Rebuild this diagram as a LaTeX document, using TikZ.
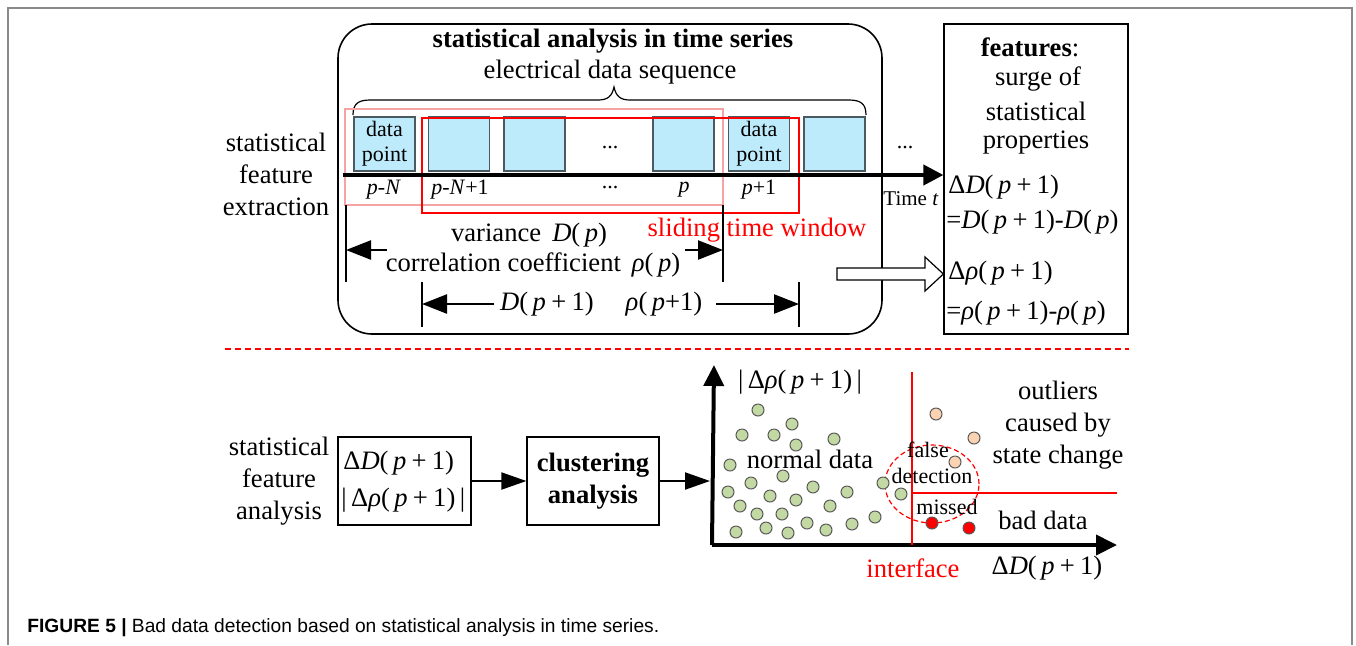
\documentclass[tikz,border=0pt]{standalone}
\usepackage{fontspec}
\setmainfont{Liberation Serif}
\newfontfamily\capfont{Liberation Sans}
\usetikzlibrary{arrows.meta,shapes.geometric}
\definecolor{boxblue}{HTML}{BDEBFB}
\definecolor{boxedge}{HTML}{4A5A60}
\definecolor{dotgreen}{HTML}{C3D9A3}
\definecolor{dotpeach}{HTML}{FBD3B3}
\definecolor{framegray}{HTML}{8A8A8A}
\definecolor{winpink}{HTML}{F5A3A3}
\newcommand\itp{\textit{p}}
\newcommand\itD{\textit{D}}
\newcommand\itN{\textit{N}}
\newcommand\itrho{\textit{ρ}}
\newcommand\msp{\hspace{0.2em}}
\newcommand\plusone{\msp+\msp1}
\begin{document}
\begin{tikzpicture}[x=0.5pt,y=-0.5pt,
  txt/.style={inner sep=0pt, align=center, font=\fontsize{13.3}{16}\selectfont},
  sm/.style={inner sep=0pt, align=center, font=\fontsize{11}{12.5}\selectfont},
  dbox/.style={draw=boxedge, fill=boxblue, line width=0.6pt, minimum width=30.5pt, minimum height=27pt, inner sep=0pt},
  plainbox/.style={draw, line width=0.6pt, inner sep=0pt},
  dimtick/.style={line width=1pt},
  dimarrow/.style={line width=1.2pt, -{Triangle[length=12.5pt,width=9.5pt]}},
  axisline/.style={line width=2pt, -{Triangle[length=10.5pt,width=10pt]}},
  flow/.style={line width=1pt, -{Triangle[length=12.5pt,width=8.5pt]}},
  dot/.style={circle, draw=black!65, line width=0.5pt, minimum size=6pt, inner sep=0pt},
  gdot/.style={dot, fill=dotgreen},
  pdot/.style={dot, fill=dotpeach},
  rdot/.style={dot, fill=red},
]
\useasboundingbox (0,0) rectangle (1356,645);

% panel frame
\draw[framegray, line width=1pt] (8,645) -- (8,8) -- (1352,8) -- (1352,645);

% ---------------- upper part: feature extraction ----------------
\node[txt] (lblext) at (276,174) {statistical\\feature\\extraction};

\node[draw, line width=0.8pt, rounded corners=17pt, minimum width=272pt, minimum height=155pt] (tsa) at (610,179) {};
\node[txt] (tsatitle) at (613,41) {\textbf{statistical analysis in time series}};
\node[txt] (seq) at (610,72) {electrical data sequence};

% curly brace over the sequence
\draw[line width=0.6pt] (353,115) .. controls (353,104) and (358,100) .. (370,100) -- (598,100)
  .. controls (608,100) and (612,96) .. (614,87)
  .. controls (616,96) and (620,100) .. (630,100) -- (849,100)
  .. controls (861,100) and (866,104) .. (866,115);

% data points
\node[dbox] (b1) at (384.5,144) {};
\node[sm] at (b1) {data\\point};
\node[dbox] (b2) at (459,144) {};
\node[dbox] (b3) at (534.5,144) {};
\node[sm] (dots1) at (610,147) {...};
\node[dbox] (b4) at (683.5,144) {};
\node[dbox] (b5) at (759,144) {};
\node[sm] at (b5) {data\\point};
\node[dbox] (b6) at (834.5,144) {};
\node[sm] (dots2) at (905,147) {...};

% index labels
\node[sm] (l1) at (384,190) {\itp-\itN};
\node[sm] (l2) at (460,190) {\itp-\itN+1};
\node[sm] (l3) at (610,188) {...};
\node[sm] (l4) at (684,190) {\itp};
\node[sm] (l5) at (759,190) {\itp+1};

% sliding windows
\draw[winpink, line width=0.6pt] (345,109) rectangle (723,205);
\draw[red, line width=0.6pt] (422,118) rectangle (799,213);

% feature box
\node[draw, line width=0.6pt, minimum width=92pt, minimum height=155pt] (feat) at (1036,179) {};
\node[txt] at (1030,47) {\textbf{features}:};
\node[txt] at (1038,79) {surge of};
\node[txt] at (1036,111) {statistical};
\node[txt] at (1036,143) {properties};
\node[txt, anchor=west] at (948,187) {Δ\itD(\,\itp\plusone)};
\node[txt, anchor=west] at (946,222) {=\itD(\,\itp\plusone)-\itD(\,\itp)};
\node[txt, anchor=west] at (948,273) {Δ\itrho(\,\itp\plusone)};
\node[txt, anchor=west] at (946,313) {=\itrho(\,\itp\plusone)-\itrho(\,\itp)};

% time axis
\coordinate (tl0) at (343,175);
\draw[line width=2pt, -{Triangle[length=10pt,width=10pt]}] (tl0) -- (feat.west |- tl0);
\node[inner sep=0pt, font=\fontsize{10.5}{12}\selectfont] (timet) at (911,199) {Time \textit{t}};

% window dimension lines
\coordinate (wa) at (346,250);
\coordinate (wb) at (723,250);
\coordinate (wc) at (422,304);
\coordinate (wd) at (799,304);
\draw[dimtick] (346,205) -- (346,282);
\draw[dimtick] (723,205) -- (723,282);
\draw[dimtick] (422,282) -- (422,327);
\draw[dimtick] (799,282) -- (799,327);
\draw[dimarrow] (387,250) -- (wa);
\draw[dimarrow] (685,250) -- (wb);
\draw[dimarrow] (494,304) -- (wc);
\draw[dimarrow] (716,304) -- (wd);
\node[txt] at (529,235) {variance \,\itD(\,\itp)};
\node[txt] at (533,265) {correlation coefficient \,\itrho(\,\itp)};
\node[txt] at (547,304) {\itD(\,\itp\plusone)};
\node[txt] at (664,304) {\itrho(\,\itp+1)};
\node[txt, text=red] (slide) at (757,230) {sliding time window};

% hollow transfer arrow
\draw[line width=0.6pt, fill=white] (837,268) -- (925,268) -- (925,257) -- (feat.west |- 0,274)
  -- (925,291) -- (925,280) -- (837,280) -- cycle;

% separator
\draw[red, line width=0.6pt, dash pattern=on 3pt off 2pt] (225,349) -- (1129,349);

% ---------------- lower part: feature analysis ----------------
\node[txt] (lblana) at (279,481) {statistical\\feature\\analysis};
\node[plainbox, minimum width=66.5pt, minimum height=44pt] (fb) at (404.5,481) {};
\node[txt, anchor=west] at (343,463) {Δ\itD(\,\itp\plusone)};
\node[txt, anchor=west] at (341,500) {|\,Δ\itrho(\,\itp\plusone)\,|};
\node[plainbox, minimum width=66pt, minimum height=44pt] (cl) at (593,481) {};
\node[txt] at (cl) {\textbf{clustering}\\\textbf{analysis}};
\coordinate (sc) at (710,481);
\draw[flow] (fb.east) -- (cl.west);
\draw[flow] (cl.east) -- (sc);

% scatter plot axes
\coordinate (org) at (714,545);
\draw[axisline] (712,545) -- (714,365);
\draw[axisline] (712,545) -- (1117,545);
\node[txt] (ylab) at (800,382) {|\,Δ\itrho(\,\itp\plusone)\,|};
\node[txt] (xlab) at (1047,568) {Δ\itD(\,\itp\plusone)};

% interface lines
\draw[red, line width=0.9pt] (912,372) -- (912,545);
\draw[red, line width=0.9pt] (912,493) -- (1117,493);
\node[txt, text=red] (iface) at (913,568) {interface};

% false detection region
\draw[red, line width=0.6pt, dash pattern=on 2.5pt off 1.5pt] (932,484) ellipse [x radius=23.5pt, y radius=19.5pt];

% data points
\foreach \x/\y [count=\i] in {758/410,742/435,774/435,792/424,796/445,834/439,730/465,783/476,
  751/483,728/492,813/487,770/496,847/492,883/483,901/494,740/506,796/500,830/506,757/514,
  782/514,807/523,875/517,736/532,766/528,788/533,826/530,852/524}
  \node[gdot] (g\i) at (\x,\y) {};
\node[pdot] (o1) at (936,414) {};
\node[pdot] (o2) at (974,438) {};
\node[pdot] (o3) at (955,462) {};
\node[rdot] (r1) at (932,523) {};
\node[rdot] (r2) at (969,528) {};

% region labels
\node[txt] at (810,459) {normal data};
\node[sm] at (928,450) {false};
\node[sm] at (932,476) {detection};
\node[sm] at (947,507) {missed};
\node[txt] at (1058,425) {outliers\\caused by\\state change};
\node[txt] at (1043,520) {bad data};

% caption
\node[anchor=west, inner sep=0pt, font=\capfont\fontsize{9.6}{11.5}\selectfont] (cap) at (27,628)
  {\textbf{FIGURE 5 |} Bad data detection based on statistical analysis in time series.};
\end{tikzpicture}
\end{document}
